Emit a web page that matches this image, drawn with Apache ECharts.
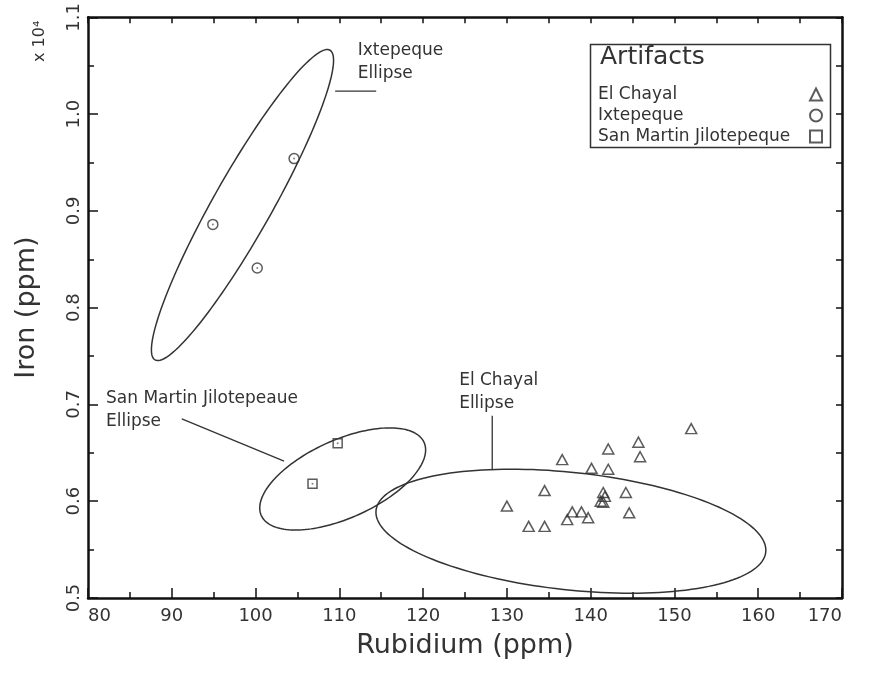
<!DOCTYPE html>
<html>
<head>
<meta charset="utf-8">
<title>Rubidium vs Iron</title>
<script src="https://cdn.jsdelivr.net/npm/echarts@6/dist/echarts.min.js"></script>
<style>
  html, body { margin: 0; padding: 0; background: #fff; }
  #main { width: 872px; height: 688px; }
</style>
</head>
<body>
<div id="main"></div>
<script>
// artifact measurements, Rb in ppm, Fe in ppm x 10^4
var elChayalRb = [152.0, 145.7, 145.9, 142.1, 136.6, 140.1, 142.1, 134.5, 130.0, 141.5, 141.7,
                  141.2, 141.5, 144.2, 144.6, 137.8, 138.9, 137.2, 139.7, 132.6, 134.5];
var elChayalFe = [0.675, 0.661, 0.646, 0.654, 0.643, 0.634, 0.633, 0.611, 0.595, 0.609, 0.605,
                  0.600, 0.599, 0.609, 0.588, 0.589, 0.589, 0.581, 0.583, 0.574, 0.574];
var ixtepequeRb = [94.9, 100.2, 104.6];
var ixtepequeFe = [0.886, 0.841, 0.954];
var sanMartinRb = [109.8, 106.8];
var sanMartinFe = [0.660, 0.618];

// source ellipses: centre (Rb, Fe), then two conjugate semi-axis vectors
var ixtepequeEllipse = [98.44, 0.906, 10.44, 0.160, 3.03, -0.0148];
var sanMartinEllipse = [110.4, 0.623, 9.9, 0.030, 0, 0.0434];
var elChayalEllipse = [137.64, 0.569, 23.27, -0.0196, 0, 0.061];

var xTicks = [80, 90, 100, 110, 120, 130, 140, 150, 160, 170];
var yTicks = [0.5, 0.6, 0.7, 0.8, 0.9, 1.0, 1.1];

// ellipse call-outs (data units)
var calloutText = ['Ixtepeque\nEllipse', 'San Martin Jilotepeaue\nEllipse', 'El Chayal\nEllipse'];
var calloutAt = [[112.2, 1.054], [82.15, 0.694], [124.3, 0.7125]];
var calloutLine = [
  [[109.5, 1.0238], [114.4, 1.0238]],
  [[91.2, 0.685], [103.4, 0.6415]],
  [[128.25, 0.6883], [128.25, 0.6333]]
];

var FONT = 'DejaVu Sans';
var INK = '#333';

function pairs(xs, ys) {
  return xs.map(function (x, i) { return [x, ys[i]]; });
}

function ellipseSeries(name, e) {
  return {
    type: 'custom',
    name: name,
    silent: true,
    clip: false,
    data: [e],
    renderItem: function (params, api) {
      var cx = api.value(0), cy = api.value(1);
      var ux = api.value(2), uy = api.value(3);
      var vx = api.value(4), vy = api.value(5);
      var pts = [];
      for (var k = 0; k < 160; k++) {
        var t = 2 * Math.PI * k / 160;
        pts.push(api.coord([cx + ux * Math.cos(t) + vx * Math.sin(t),
                            cy + uy * Math.cos(t) + vy * Math.sin(t)]));
      }
      return {
        type: 'polygon',
        shape: { points: pts },
        style: { fill: null, stroke: INK, lineWidth: 1.5 }
      };
    }
  };
}

var calloutSeries = {
  type: 'custom',
  silent: true,
  clip: false,
  data: calloutText.map(function (t, i) { return [calloutAt[i][0], calloutAt[i][1], i]; }),
  renderItem: function (params, api) {
    var i = api.value(2);
    var p = api.coord([api.value(0), api.value(1)]);
    var a = api.coord(calloutLine[i][0]);
    var b = api.coord(calloutLine[i][1]);
    return {
      type: 'group',
      children: [
        { type: 'line', shape: { x1: a[0], y1: a[1], x2: b[0], y2: b[1] },
          style: { stroke: INK, lineWidth: 1.3 } },
        { type: 'text', x: p[0], y: p[1],
          style: { text: calloutText[i], fill: INK, fontFamily: FONT, fontSize: 17,
                   lineHeight: 23, align: 'left', verticalAlign: 'middle' } }
      ]
    };
  }
};

var hollow = { color: 'none', borderColor: INK, borderWidth: 1.5 };
var tickStyle = { color: '#111', width: 1.5 };

var myChart = echarts.init(document.getElementById('main'));

var option = {
  backgroundColor: '#fff',
  animation: false,
  textStyle: { fontFamily: FONT, color: INK },
  grid: { left: 88, right: 30, top: 17, bottom: 90 },
  xAxis: [
    {
      type: 'value', min: xTicks[0], max: xTicks[xTicks.length - 1], interval: 10,
      name: 'Rubidium (ppm)', nameLocation: 'middle', nameGap: 34,
      nameTextStyle: { fontSize: 27, color: INK, fontFamily: FONT },
      axisLine: { lineStyle: { color: '#111', width: 2.5 } },
      axisTick: { inside: true, length: 10, lineStyle: tickStyle },
      minorTick: { show: true, splitNumber: 2, length: 6, lineStyle: tickStyle },
      axisLabel: { fontSize: 18, color: INK, margin: 9, alignMinLabel: 'left', alignMaxLabel: 'right' },
      splitLine: { show: false }
    },
    {
      type: 'value', position: 'top', min: xTicks[0], max: xTicks[xTicks.length - 1], interval: 10,
      axisLine: { lineStyle: { color: '#111', width: 2.5 } },
      axisTick: { inside: true, length: 6, lineStyle: tickStyle },
      minorTick: { show: true, splitNumber: 2, length: 6, lineStyle: tickStyle },
      axisLabel: { show: false },
      splitLine: { show: false }
    }
  ],
  yAxis: [
    {
      type: 'value', min: yTicks[0], max: yTicks[yTicks.length - 1], interval: 0.1,
      name: 'Iron (ppm)', nameLocation: 'middle', nameGap: 48,
      nameTextStyle: { fontSize: 27, color: INK, fontFamily: FONT },
      axisLine: { lineStyle: { color: '#111', width: 2.5 } },
      axisTick: { inside: true, length: 10, lineStyle: tickStyle },
      minorTick: { show: true, splitNumber: 2, length: 6, lineStyle: tickStyle },
      axisLabel: { fontSize: 18, color: INK, rotate: 90, margin: 5,
                   formatter: function (v) { return v.toFixed(1); } },
      splitLine: { show: false }
    },
    {
      type: 'value', position: 'right', min: yTicks[0], max: yTicks[yTicks.length - 1], interval: 0.1,
      axisLine: { lineStyle: { color: '#111', width: 2.5 } },
      axisTick: { inside: true, length: 6, lineStyle: tickStyle },
      minorTick: { show: true, splitNumber: 2, length: 6, lineStyle: tickStyle },
      axisLabel: { show: false },
      splitLine: { show: false }
    }
  ],
  legend: {
    data: ['El Chayal', 'Ixtepeque', 'San Martin Jilotepeque'],
    orient: 'vertical', left: 593, top: 81, align: 'right',
    itemWidth: 12, itemHeight: 12, itemGap: 4, selectedMode: false,
    formatter: function (name) { return '{n|' + name + '}'; },
    textStyle: {
      color: INK, fontFamily: FONT,
      rich: { n: { width: 207, align: 'left', fontSize: 17, color: INK, fontFamily: FONT, lineHeight: 19 } }
    }
  },
  graphic: [
    { type: 'rect', left: 588, top: 42, shape: { width: 240, height: 103 },
      style: { fill: null, stroke: INK, lineWidth: 1.5 } },
    { type: 'text', left: 600, top: 45,
      style: { text: 'Artifacts', fontSize: 25, fontFamily: FONT, fill: INK } },
    { type: 'text', x: 32, y: 62, rotation: Math.PI / 2,
      style: { text: 'x 10⁴', fontSize: 16, fontFamily: FONT, fill: INK } }
  ],
  series: [
    ellipseSeries('ixtepeque ellipse', ixtepequeEllipse),
    ellipseSeries('san martin ellipse', sanMartinEllipse),
    ellipseSeries('el chayal ellipse', elChayalEllipse),
    calloutSeries,
    {
      name: 'El Chayal', type: 'scatter', symbol: 'triangle', symbolSize: [11, 10],
      itemStyle: hollow, data: pairs(elChayalRb, elChayalFe)
    },
    {
      name: 'Ixtepeque', type: 'scatter', symbol: 'circle', symbolSize: 10,
      itemStyle: hollow, data: pairs(ixtepequeRb, ixtepequeFe)
    },
    {
      name: 'San Martin Jilotepeque', type: 'scatter', symbol: 'rect', symbolSize: 9,
      itemStyle: hollow, data: pairs(sanMartinRb, sanMartinFe)
    },
    {
      name: 'centre dots', type: 'scatter', symbol: 'circle', symbolSize: 2, silent: true,
      itemStyle: { color: '#666' },
      data: pairs(ixtepequeRb, ixtepequeFe).concat(pairs(sanMartinRb, sanMartinFe))
    }
  ]
};

myChart.setOption(option);
</script>
</body>
</html>
